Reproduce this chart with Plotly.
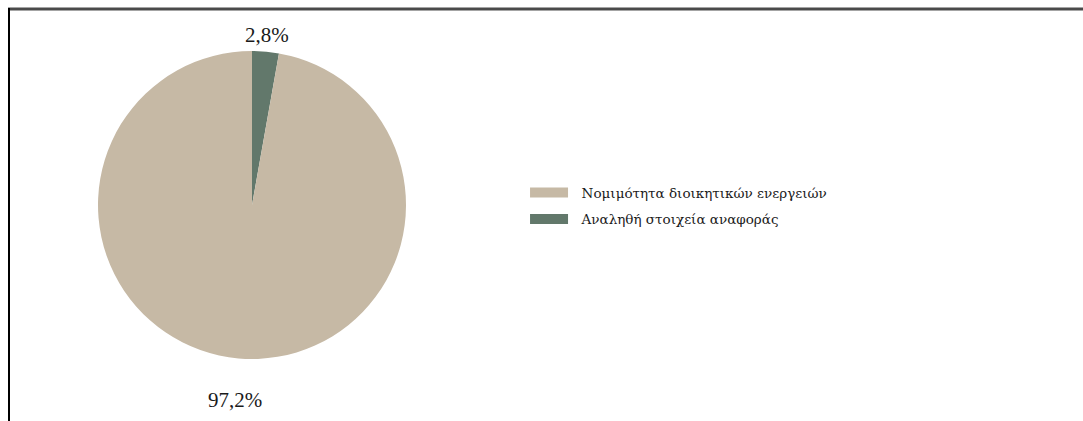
import math
import plotly.graph_objects as go

# Slice data
labels = ["Νομιμότητα διοικητικών ενεργειών", "Αναληθή στοιχεία αναφοράς"]
values = [97.2, 2.8]
colors = ["#c6b9a5", "#62786b"]

W, H = 1083, 421
NUM_FONT = "Liberation Serif, Times New Roman, serif"
TXT_FONT = "DejaVu Serif, serif"

# pie geometry in pixels (center and radius)
CX, CY, R = 252, 205, 154
# distance of each percentage label from the centre, as a multiple of R
label_dist = [1.27, 1.11]

# slices are drawn clockwise from 12 o'clock, smallest one first
order = [1, 0]

fig = go.Figure()
fig.add_trace(
    go.Pie(
        labels=[labels[i] for i in order],
        values=[values[i] for i in order],
        sort=False,
        direction="clockwise",
        rotation=0,
        marker=dict(colors=[colors[i] for i in order], line=dict(width=0)),
        textinfo="none",
        showlegend=False,
        domain=dict(x=[(CX - R) / W, (CX + R) / W],
                    y=[1 - (CY + R) / H, 1 - (CY - R) / H]),
        hoverinfo="label+percent",
    )
)

# legend entries drawn as thick line swatches
for i, (lab, col) in enumerate(zip(labels, colors)):
    fig.add_trace(
        go.Scatter(
            x=[None], y=[None], mode="lines", name="\u00a0\u00a0" + lab,
            line=dict(color=col, width=13),
            legendgroup=f"g{i}", hoverinfo="skip",
        )
    )

# percentage labels placed along each slice's mid-angle
total = sum(values)
annotations = []
acc = 0.0
for i in order:
    v = values[i]
    mid = (acc + v / 2) / total * 2 * math.pi  # clockwise from 12 o'clock
    acc += v
    px = CX + R * label_dist[i] * math.sin(mid)
    py = CY - R * label_dist[i] * math.cos(mid)
    annotations.append(
        dict(
            x=px / W, y=1 - py / H, xref="paper", yref="paper",
            text=f"{v:.1f}%".replace(".", ","), showarrow=False,
            font=dict(family=NUM_FONT, size=21, color="#1a1a1a"),
            xanchor="center", yanchor="middle",
        )
    )

fig.update_layout(
    width=W,
    height=H,
    margin=dict(l=0, r=0, t=0, b=0),
    paper_bgcolor="white",
    plot_bgcolor="white",
    xaxis=dict(visible=False),
    yaxis=dict(visible=False),
    showlegend=True,
    legend=dict(
        x=0.4848,
        y=0.51,
        xanchor="left",
        yanchor="middle",
        font=dict(family=TXT_FONT, size=13.5, color="#1a1a1a"),
        bgcolor="rgba(0,0,0,0)",
        itemwidth=38,
        tracegroupgap=6,
        traceorder="grouped",
    ),
    annotations=annotations,
    shapes=[
        # frame: top rule and left rule
        dict(type="line", xref="paper", yref="paper",
             x0=8 / W, x1=1.0, y0=1 - 9 / H, y1=1 - 9 / H,
             line=dict(color="#4a4a4a", width=3)),
        dict(type="line", xref="paper", yref="paper",
             x0=9 / W, x1=9 / W, y0=0, y1=1 - 8 / H,
             line=dict(color="#000000", width=2)),
    ],
)

fig.write_html("out.html")
